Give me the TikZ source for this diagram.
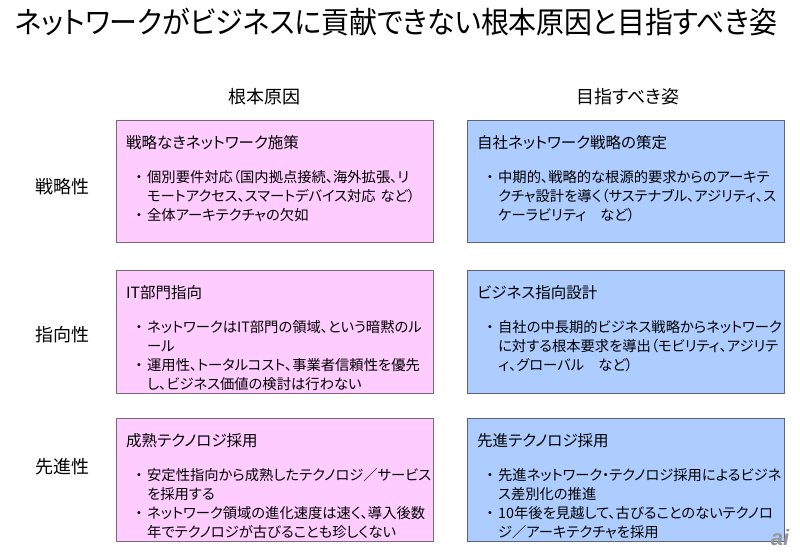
\documentclass[tikz,border=0pt]{standalone}
\usepackage{fontspec}
\setmainfont{Noto Sans CJK JP}[RawFeature=+palt]
\newfontfamily\titlefont{Noto Sans CJK JP}[RawFeature=+palt,FakeStretch=0.93]
\newfontfamily\wmfont{Liberation Sans}
\definecolor{pinkfill}{RGB}{255,204,255}
\definecolor{bluefill}{RGB}{173,204,255}
\definecolor{pinkedge}{RGB}{120,105,120}
\definecolor{blueedge}{RGB}{95,100,115}
\definecolor{wmgray}{RGB}{150,150,150}
\newcommand\bul{\leavevmode\llap{・\kern4.5pt}}
\begin{document}
\begin{tikzpicture}[x=1pt,y=-1pt,
  causebox/.style={draw=pinkedge,fill=pinkfill,line width=0.9pt,minimum width=317pt,anchor=north west,inner sep=0},
  goalbox/.style={draw=blueedge,fill=bluefill,line width=0.9pt,minimum width=317pt,anchor=north west,inner sep=0},
  boxtitle/.style={anchor=base west,inner sep=0,font=\fontsize{15.5}{18}\selectfont},
  bodytext/.style={anchor=base west,inner sep=0,text width=295pt,align=left,font=\fontsize{14.3}{19}\selectfont},
  header/.style={inner sep=0,font=\fontsize{18}{20}\selectfont},
  rowlabel/.style={inner sep=0,font=\fontsize{18}{20}\selectfont}]
\useasboundingbox (0,0) rectangle (800,555);
\fill[white] (0,0) rectangle (800,555);

\node[inner sep=0,font=\titlefont\fontsize{30}{32}\selectfont] (title) at (396,22) {ネットワークがビジネスに貢献できない根本原因と目指すべき姿};

\node[header] (h1) at (264,97) {根本原因};
\node[header] (h2) at (628,97) {目指すべき姿};

\node[rowlabel] (r1) at (62,187) {戦略性};
\node[rowlabel] (r2) at (62,335) {指向性};
\node[rowlabel] (r3) at (62,467) {先進性};

% row 1
\node[causebox,minimum height=122pt] (c1) at (116,120) {};
\node[goalbox,minimum height=122pt] (g1) at (467,120) {};
% row 2
\node[causebox,minimum height=123pt] (c2) at (116,270) {};
\node[goalbox,minimum height=123pt] (g2) at (467,270) {};
% row 3
\node[causebox,minimum height=123pt] (c3) at (116,418) {};
\node[goalbox,minimum height=123pt] (g3) at (467,418) {};

\node[boxtitle] (c1t) at ([shift={(10,28)}]c1.north west) {戦略なきネットワーク施策};
\node[bodytext] (c1b) at ([shift={(31,62)}]c1.north west) {\bul 個別要件対応（国内拠点接続、海外拡張、リ\\モートアクセス、スマートデバイス対応 など）\\\bul 全体アーキテクチャの欠如};

\node[boxtitle] (g1t) at ([shift={(10,28)}]g1.north west) {自社ネットワーク戦略の策定};
\node[bodytext] (g1b) at ([shift={(31,62)}]g1.north west) {\bul 中期的、戦略的な根源的要求からのアーキテ\\クチャ設計を導く（サステナブル、アジリティ、ス\\ケーラビリティ　など）};

\node[boxtitle] (c2t) at ([shift={(10,28)}]c2.north west) {IT部門指向};
\node[bodytext] (c2b) at ([shift={(31,62)}]c2.north west) {\bul ネットワークはIT部門の領域、という暗黙のル\\ール\\\bul 運用性、トータルコスト、事業者信頼性を優先\\し、ビジネス価値の検討は行わない};

\node[boxtitle] (g2t) at ([shift={(10,28)}]g2.north west) {ビジネス指向設計};
\node[bodytext] (g2b) at ([shift={(31,62)}]g2.north west) {\bul 自社の中長期的ビジネス戦略からネットワーク\\に対する根本要求を導出（モビリティ、アジリテ\\ィ、グローバル　など）};

\node[boxtitle] (c3t) at ([shift={(10,28)}]c3.north west) {成熟テクノロジ採用};
\node[bodytext] (c3b) at ([shift={(31,62)}]c3.north west) {\bul 安定性指向から成熟したテクノロジ／サービス\\を採用する\\\bul ネットワーク領域の進化速度は速く、導入後数\\年でテクノロジが古びることも珍しくない};

\node[boxtitle] (g3t) at ([shift={(10,28)}]g3.north west) {先進テクノロジ採用};
\node[bodytext] (g3b) at ([shift={(31,62)}]g3.north west) {\bul 先進ネットワーク・テクノロジ採用によるビジネ\\ス差別化の推進\\\bul 10年後を見越して、古びることのないテクノロ\\ジ／アーキテクチャを採用};

\node[inner sep=0,text=wmgray,font=\wmfont\bfseries\itshape\fontsize{22}{22}\selectfont] (wm) at (780,538) {ai};
\end{tikzpicture}
\end{document}
